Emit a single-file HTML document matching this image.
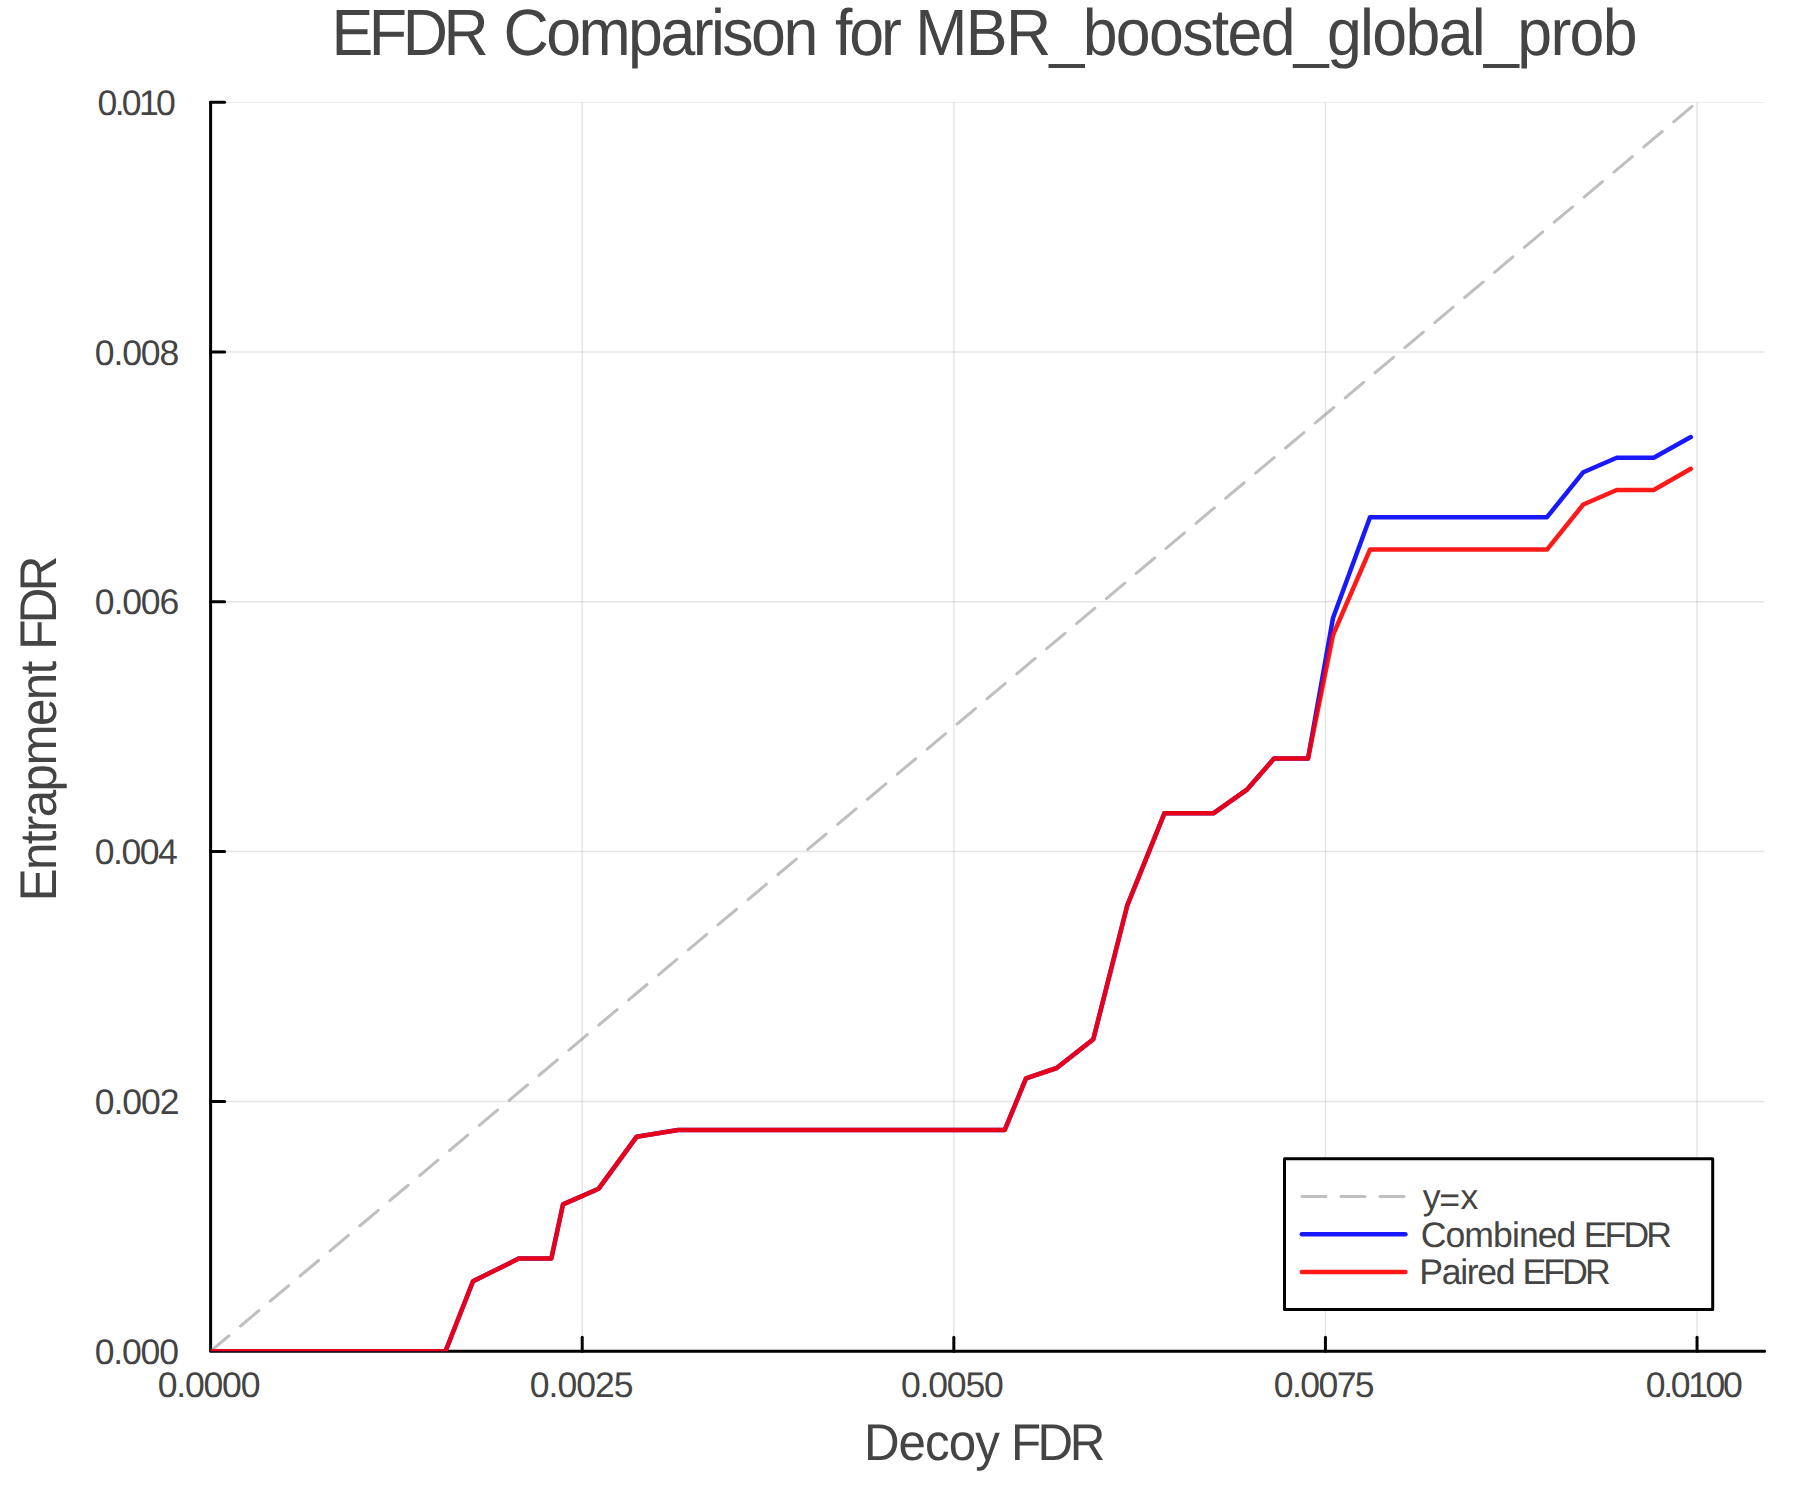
<!DOCTYPE html>
<html lang="en"><head><meta charset="utf-8"><title>EFDR Comparison for MBR_boosted_global_prob</title>
<style>html,body{margin:0;padding:0;background:#fff}body{width:1800px;height:1500px;overflow:hidden}svg{display:block}</style></head>
<body>
<svg width="1800" height="1500" viewBox="0 0 1800 1500">
<rect width="1800" height="1500" fill="#fff"/>
<defs><clipPath id="pa"><rect x="210.60" y="102.25" width="1554.10" height="1248.95"/></clipPath></defs>
<g stroke="#000" stroke-opacity="0.1" stroke-width="1.5" fill="none" clip-path="url(#pa)">
<path d="M582.21 102.25V1351.20"/>
<path d="M953.83 102.25V1351.20"/>
<path d="M1325.44 102.25V1351.20"/>
<path d="M1697.05 102.25V1351.20"/>
<path d="M210.60 1101.41H1764.70"/>
<path d="M210.60 851.62H1764.70"/>
<path d="M210.60 601.83H1764.70"/>
<path d="M210.60 352.04H1764.70"/>
<path d="M210.60 102.25H1764.70"/>
</g>
<g stroke="#000" stroke-width="3" fill="none" stroke-linecap="round">
<path d="M210.60 102.25V1351.20H1764.70" stroke-linejoin="round"/>
<path d="M582.21 1351.20v-14"/>
<path d="M953.83 1351.20v-14"/>
<path d="M1325.44 1351.20v-14"/>
<path d="M1697.05 1351.20v-14"/>
<path d="M210.60 1101.41h14"/>
<path d="M210.60 851.62h14"/>
<path d="M210.60 601.83h14"/>
<path d="M210.60 352.04h14"/>
<path d="M210.60 102.25h14"/>
</g>
<g clip-path="url(#pa)" fill="none" stroke-linecap="round" stroke-linejoin="round">
<path d="M210.60 1351.20L1697.05 102.25" stroke="#808080" stroke-opacity="0.5" stroke-width="3" stroke-dasharray="24 15"/>
<polyline points="210.6,1351.2 445.5,1351.2 473.0,1281.3 518.7,1258.6 551.3,1258.6 563.0,1204.4 598.7,1188.7 636.7,1136.7 678.0,1130.0 1004.7,1130.0 1026.0,1078.4 1056.7,1068.0 1093.3,1039.3 1127.3,905.3 1164.4,813.3 1213.3,813.3 1247.3,789.3 1274.0,758.6 1308.0,758.6 1333.0,618.0 1370.0,517.2 1547.0,517.2 1583.3,472.2 1616.7,457.8 1653.7,457.8 1690.8,437.0" stroke="#0000ff" stroke-opacity="0.9" stroke-width="4.5"/>
<polyline points="210.6,1351.2 445.5,1351.2 473.0,1281.3 518.7,1258.6 551.3,1258.6 563.0,1204.4 598.7,1188.7 636.7,1136.7 678.0,1130.0 1004.7,1130.0 1026.0,1078.4 1056.7,1068.0 1093.3,1039.3 1127.3,905.3 1164.4,813.3 1213.3,813.3 1247.3,789.3 1274.0,758.6 1308.0,758.6 1333.0,635.0 1370.0,549.6 1547.0,549.6 1583.3,504.5 1616.7,490.0 1653.7,490.0 1690.8,468.8" stroke="#ff0000" stroke-opacity="0.9" stroke-width="4.5"/>
</g>
<rect x="1284.5" y="1158.7" width="428.2" height="150.9" fill="#fff" stroke="#000" stroke-width="3" stroke-linejoin="round"/>
<g fill="none" stroke-linecap="round">
<path d="M1302 1196.4H1406" stroke="#808080" stroke-opacity="0.5" stroke-width="3" stroke-dasharray="24 15"/>
<path d="M1301.8 1234.3H1405.4" stroke="#0000ff" stroke-opacity="0.9" stroke-width="4.5"/>
<path d="M1301.8 1271.9H1405.4" stroke="#ff0000" stroke-opacity="0.9" stroke-width="4.5"/>
</g>
<g fill="#444444" font-family="'Liberation Sans', Arial, Helvetica, sans-serif" style="font-kerning:none" text-rendering="geometricPrecision">
<text transform="translate(0,55.00) scale(0.955,1)" font-size="65.6"><tspan x="347.18" letter-spacing="-4.675">EFDR </tspan><tspan x="527.24" letter-spacing="-2.675">Comparison </tspan><tspan x="874.25" letter-spacing="-3.237">for </tspan><tspan x="958.49" letter-spacing="-1.761">MBR_boosted_global_prob</tspan></text>
<text transform="translate(0,1459.70) scale(0.955,1)" font-size="51.6"><tspan x="904.67" letter-spacing="-1.005">Decoy </tspan><tspan x="1058.59" letter-spacing="-3.637">FDR</tspan></text>
<text transform="translate(56.00,0) rotate(-90) scale(0.955,1)" font-size="51.6"><tspan x="-943.81" letter-spacing="-1.645">Entrapment </tspan><tspan x="-680.25" letter-spacing="-3.846">FDR</tspan></text>
<text transform="translate(97.61,114.90) scale(1.0,1)" font-size="35.6" letter-spacing="-2.726">0.010</text>
<text transform="translate(94.81,365.00) scale(1.0,1)" font-size="35.6" letter-spacing="-1.137">0.008</text>
<text transform="translate(94.81,613.70) scale(1.0,1)" font-size="35.6" letter-spacing="-1.133">0.006</text>
<text transform="translate(94.81,863.70) scale(1.0,1)" font-size="35.6" letter-spacing="-1.488">0.004</text>
<text transform="translate(94.81,1113.80) scale(1.0,1)" font-size="35.6" letter-spacing="-1.076">0.002</text>
<text transform="translate(94.71,1363.70) scale(1.0,1)" font-size="35.6" letter-spacing="-1.201">0.000</text>
<text transform="translate(157.81,1397.00) scale(1.0,1)" font-size="35.6" letter-spacing="-1.241">0.0000</text>
<text transform="translate(529.71,1397.00) scale(1.0,1)" font-size="35.6" letter-spacing="-0.980">0.0025</text>
<text transform="translate(900.91,1397.00) scale(1.0,1)" font-size="35.6" letter-spacing="-1.181">0.0050</text>
<text transform="translate(1273.81,1397.00) scale(1.0,1)" font-size="35.6" letter-spacing="-1.600">0.0075</text>
<text transform="translate(1645.81,1397.00) scale(1.0,1)" font-size="35.6" letter-spacing="-2.381">0.0100</text>
<text font-size="35.6" y="1208.7"><tspan x="1422.71">y</tspan><tspan x="1439.16" dy="3.7">=</tspan><tspan x="1460.50" dy="-3.7">x</tspan></text>
<text transform="translate(0,1246.50) scale(1.0,1)" font-size="35.6"><tspan x="1420.69" letter-spacing="-0.924">Combined </tspan><tspan x="1583.78" letter-spacing="-2.913">EFDR</tspan></text>
<text transform="translate(0,1283.80) scale(1.0,1)" font-size="35.6"><tspan x="1419.28" letter-spacing="-1.318">Paired </tspan><tspan x="1522.38" letter-spacing="-2.812">EFDR</tspan></text>
</g>
</svg>
</body></html>
